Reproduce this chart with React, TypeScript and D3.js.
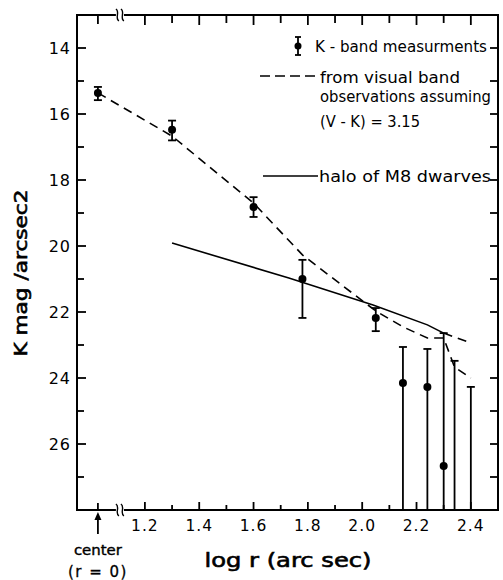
import React from "react";
import * as d3 from "d3";

// ---- data ----
const CENTER_POS = 1.027; // plotted position of the "center (r=0)" point
const kLogR = [CENTER_POS, 1.3, 1.6, 1.78, 2.05, 2.15, 2.24, 2.3, 2.34, 2.4];
const kMag: (number | null)[] = [15.36, 16.48, 18.82, 21.0, 22.18, 24.15, 24.27, 26.67, null, null];
const kErrTop = [15.18, 16.2, 18.52, 20.42, 21.88, 23.06, 23.12, 22.64, 23.48, 24.27];
const kErrBottom = [15.58, 16.8, 19.12, 22.18, 22.58, 28, 28, 28, 28, 28];

const visLogR = [CENTER_POS, 1.3, 1.6, 1.78, 2.05, 2.15, 2.24, 2.3, 2.34, 2.4];
const visMag = [15.36, 16.67, 18.7, 20.27, 21.97, 22.45, 22.79, 22.79, 23.67, 24.0];

const visUpperLogR = [2.3, 2.4];
const visUpperMag = [22.64, 22.94];

const haloLogR = [1.3, 1.73, 2.04, 2.24, 2.3];
const haloMag = [19.91, 20.97, 21.79, 22.39, 22.64];

const xTickValues = [1.2, 1.3, 1.4, 1.5, 1.6, 1.7, 1.8, 1.9, 2.0, 2.1, 2.2, 2.3, 2.4];
const xTickLabels = ["1.2", "1.4", "1.6", "1.8", "2.0", "2.2", "2.4"];
const yTickValues = [14, 15, 16, 17, 18, 19, 20, 21, 22, 23, 24, 25, 26, 27];
const yTickLabels = ["14", "16", "18", "20", "22", "24", "26"];

const legendLines = ["from visual band", "observations assuming", "(V - K) = 3.15"];

const FONT = "'DejaVu Sans', sans-serif";

export default function App() {
  const W = 503, H = 580;
  const x = d3.scaleLinear().domain([0.95, 2.5]).range([77, 498]);
  const y = d3.scaleLinear().domain([13, 28]).range([15, 510]);
  const left = x(0.95), right = x(2.5), top = y(13), bottom = y(28);
  const breakX = x(1.108);

  const line = d3
    .line<[number, number]>()
    .x((d) => x(d[0]))
    .y((d) => y(d[1]))
    .curve(d3.curveLinear);

  const visPath = line(visLogR.map((v, i) => [v, visMag[i]]))!;
  const visUpperPath = line(visUpperLogR.map((v, i) => [v, visUpperMag[i]]))!;
  const haloPath = line(haloLogR.map((v, i) => [v, haloMag[i]]))!;

  const isMajor = (v: number) => Math.abs(Math.round(v * 10) % 2) === 0;

  const breakMark = (cx: number, cy: number, key: string) => (
    <g key={key} fill="none" stroke="#000" strokeWidth={1.4}>
      <rect x={cx - 4} y={cy - 2} width={8} height={4} fill="#fff" stroke="none" />
      {[-2.5, 2.5].map((o) => (
        <path
          key={o}
          d={`M${cx + o - 1.5},${cy - 6} C${cx + o + 3},${cy - 3} ${cx + o - 3},${cy + 3} ${cx + o + 1.5},${cy + 6}`}
        />
      ))}
    </g>
  );

  return (
    <svg width={W} height={H} style={{ display: "block", position: "absolute", left: 0, top: 0 }} fontFamily={FONT}>
      <rect width={W} height={H} fill="#fff" />
      {/* frame */}
      <rect x={left} y={top} width={right - left} height={bottom - top} fill="none" stroke="#000" strokeWidth={2} />

      {/* left ticks and labels */}
      {yTickValues.map((v) => (
        <line key={"yl" + v} x1={left} x2={left + (v % 2 === 0 ? 9 : 7)} y1={y(v)} y2={y(v)} stroke="#000" strokeWidth={1.8} />
      ))}
      {yTickValues.map((v) => (
        <line key={"yr" + v} x1={right} x2={right - 8} y1={y(v)} y2={y(v)} stroke="#000" strokeWidth={1.8} />
      ))}
      {yTickLabels.map((t) => (
        <text key={"ylab" + t} x={71} y={y(+t)} dy="0.36em" textAnchor="end" fontSize={16} letterSpacing={1}>
          {t}
        </text>
      ))}

      {/* top / bottom ticks */}
      {xTickValues.map((v) => (
        <g key={"xt" + v}>
          <line x1={x(v)} x2={x(v)} y1={bottom} y2={bottom - (isMajor(v) ? 8 : 5)} stroke="#000" strokeWidth={1.8} />
          <line x1={x(v)} x2={x(v)} y1={top} y2={top + (isMajor(v) ? 10 : 8)} stroke="#000" strokeWidth={1.8} />
        </g>
      ))}
      <line x1={x(CENTER_POS)} x2={x(CENTER_POS)} y1={bottom} y2={bottom - 7} stroke="#000" strokeWidth={1.8} />
      <line x1={x(CENTER_POS)} x2={x(CENTER_POS)} y1={top} y2={top + 9} stroke="#000" strokeWidth={1.8} />
      {xTickLabels.map((t) => (
        <text key={"xlab" + t} x={x(+t)} y={531} textAnchor="middle" fontSize={15.5} letterSpacing={1}>
          {t}
        </text>
      ))}
      {breakMark(breakX, bottom, "bb")}
      {breakMark(breakX, top, "bt")}

      {/* center arrow */}
      <line x1={x(CENTER_POS)} x2={x(CENTER_POS)} y1={bottom + 8} y2={bottom + 24} stroke="#000" strokeWidth={1.8} />
      <path d={`M${x(CENTER_POS)},${bottom + 2} l-3.5,8 l7,0 z`} fill="#000" />
      <text x={x(CENTER_POS)} y={555} textAnchor="middle" fontSize={14} stroke="#000" strokeWidth={0.4} textLength={48} lengthAdjust="spacingAndGlyphs">
        center
      </text>
      <text x={x(CENTER_POS)} y={577} textAnchor="middle" fontSize={15} letterSpacing={1.5} stroke="#000" strokeWidth={0.3}>
        (r = 0)
      </text>

      {/* axis titles */}
      <text x={288} y={567} textAnchor="middle" fontSize={19} stroke="#000" strokeWidth={0.6} textLength={167} lengthAdjust="spacingAndGlyphs">
        log r (arc sec)
      </text>
      <text
        transform={`translate(27,273) rotate(-90)`}
        textAnchor="middle"
        fontSize={17}
        stroke="#000"
        strokeWidth={0.6}
        textLength={167}
        lengthAdjust="spacingAndGlyphs"
      >
        K mag /arcsec2
      </text>

      {/* curves */}
      <path d={visPath} fill="none" stroke="#000" strokeWidth={1.6} strokeDasharray="9,6" />
      <path d={visUpperPath} fill="none" stroke="#000" strokeWidth={1.6} strokeDasharray="9,6" />
      <path d={haloPath} fill="none" stroke="#000" strokeWidth={1.6} />

      {/* K-band measurements */}
      {kLogR.map((v, i) => {
        const cx = x(v);
        const yt = y(kErrTop[i]);
        const yb = y(kErrBottom[i]);
        const m = kMag[i];
        const capBottom = kErrBottom[i] < 28;
        return (
          <g key={"k" + i}>
            <line x1={cx} x2={cx} y1={yt} y2={yb} stroke="#000" strokeWidth={1.8} />
            <line x1={cx - 4} x2={cx + 4} y1={yt} y2={yt} stroke="#000" strokeWidth={1.8} />
            {capBottom && <line x1={cx - 4} x2={cx + 4} y1={yb} y2={yb} stroke="#000" strokeWidth={1.8} />}
            {m !== null && <circle cx={cx} cy={y(m)} r={4} fill="#000" />}
          </g>
        );
      })}

      {/* legend */}
      <g>
        <line x1={298} x2={298} y1={37} y2={55} stroke="#000" strokeWidth={1.8} />
        <line x1={295} x2={301} y1={37} y2={37} stroke="#000" strokeWidth={1.8} />
        <line x1={295} x2={301} y1={55} y2={55} stroke="#000" strokeWidth={1.8} />
        <circle cx={298} cy={46} r={3.5} fill="#000" />
        <text x={315} y={52} fontSize={15} textLength={172} lengthAdjust="spacingAndGlyphs">
          K - band measurments
        </text>
        <line x1={260} x2={316} y1={76} y2={76} stroke="#000" strokeWidth={1.6} strokeDasharray="10,5" />
        {legendLines.map((t, i) => (
          <text key={t} x={320} y={[83, 102, 127][i]} fontSize={15} textLength={[140, 171, 100][i]} lengthAdjust="spacingAndGlyphs">
            {t}
          </text>
        ))}
        <line x1={263} x2={318} y1={176} y2={176} stroke="#000" strokeWidth={1.6} />
        <text x={319} y={182} fontSize={15} textLength={172} lengthAdjust="spacingAndGlyphs">
          halo of M8 dwarves
        </text>
      </g>
    </svg>
  );
}
